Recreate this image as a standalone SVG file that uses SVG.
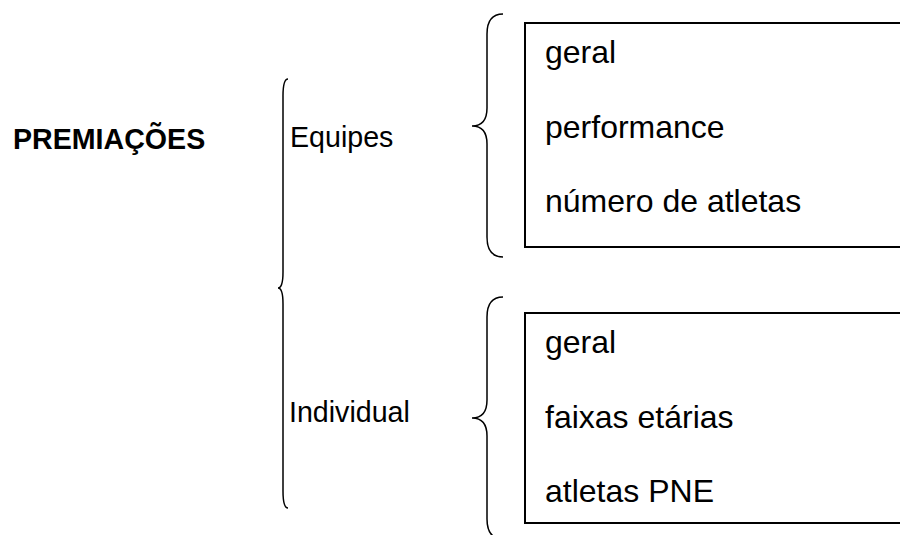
<svg xmlns="http://www.w3.org/2000/svg" width="900" height="535" viewBox="0 0 900 535">
<style>
.t{font-family:"Liberation Sans",Arial,sans-serif;fill:#000}
.b{font-size:32px}
.m{font-size:28.6px}
.h{font-size:28.6px;font-weight:bold}
.br{fill:none;stroke:#000;stroke-width:1.5}
.bx{fill:#fff;stroke:#000;stroke-width:2}
</style>
<rect width="900" height="535" fill="#fff"/>
<g id="title"><text class="t h" x="13" y="149">PREMIAÇÕES</text></g>
<g id="connectors">
<path class="br" d="M288,79 Q283,79 283,96 L283,272 Q283,288 278,288 Q283,288 283,304 L283,491 Q283,508 288,508"/>
<path class="br" d="M503,14 Q487,14 487,34 L487,108 Q487,126 472,126 Q487,126 487,144 L487,237 Q487,257 503,257"/>
<path class="br" d="M503,297 Q487,297 487,317 L487,400 Q487,418 472,418 Q487,418 487,436 L487,519 Q487,539 503,539"/>
</g>
<g id="equipes"><text class="t m" x="290" y="147">Equipes</text></g>
<g id="individual"><text class="t m" x="289" y="422">Individual</text></g>
<g id="box-equipes">
<rect class="bx" x="525" y="23" width="500" height="224"/>
<text class="t b" x="545" y="63">geral</text>
<text class="t b" x="545" y="138">performance</text>
<text class="t b" x="545" y="212">número de atletas</text>
</g>
<g id="box-individual">
<rect class="bx" x="525" y="313" width="500" height="210"/>
<text class="t b" x="545" y="353">geral</text>
<text class="t b" x="545" y="428">faixas etárias</text>
<text class="t b" x="545" y="502">atletas PNE</text>
</g>
</svg>
